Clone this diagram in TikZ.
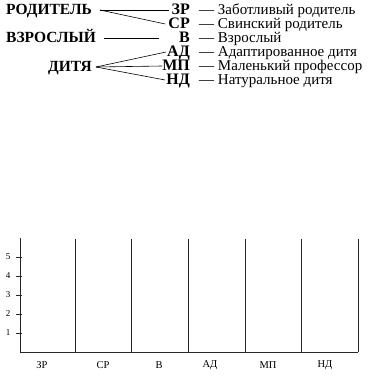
\documentclass[tikz,border=0pt]{standalone}
\usepackage{fontspec}
\setmainfont{Liberation Serif}
\begin{document}
\begin{tikzpicture}[x=1pt,y=-1pt,
  big/.style={font=\fontsize{15.5}{16}\selectfont\bfseries, inner sep=0pt, text height=10pt, text depth=1.5pt},
  abbr/.style={font=\fontsize{16}{16}\selectfont\bfseries, inner sep=0pt, anchor=east, text height=10pt, text depth=1.5pt},
  desc/.style={font=\fontsize{15}{16}\selectfont, inner sep=0pt, anchor=west, text height=10pt, text depth=1.5pt},
  lab/.style={font=\fontsize{10.5}{11}\selectfont, inner sep=0pt},
  tick/.style={font=\fontsize{9}{9}\selectfont, inner sep=0pt},
  conn/.style={line width=0.6pt},
  grid/.style={line width=0.8pt, black!85}]
\useasboundingbox (0,0) rectangle (372,380);
% left group labels
\node[big, anchor=west] (rod) at (6,10) {РОДИТЕЛЬ};
\node[big, anchor=west] (vz) at (6,38) {ВЗРОСЛЫЙ};
\node[big, anchor=east] (dit) at (92,67) {ДИТЯ};
% abbreviations
\node[abbr] (zr) at (190,10) {ЗР};
\node[abbr] (sr) at (190,24) {СР};
\node[abbr] (v) at (190,38) {В};
\node[abbr] (ad) at (190,52) {АД};
\node[abbr] (mp) at (190,66) {МП};
\node[abbr] (nd) at (190,80) {НД};
% descriptions
\node[desc] (dzr) at (199,10) {— Заботливый родитель};
\node[desc] (dsr) at (199,24) {— Свинский родитель};
\node[desc] (dv) at (199,38) {— Взрослый};
\node[desc] (dad) at (199,52) {— Адаптированное дитя};
\node[desc] (dmp) at (199,66) {— Маленький профессор};
\node[desc] (dnd) at (199,80) {— Натуральное дитя};
% connectors
\coordinate (rp) at (100,10);
\coordinate (dp) at (96,67);
\draw[conn] (rp) -- ([xshift=-2pt]zr.west);
\draw[conn] (rp) -- ([xshift=-3pt]sr.west);
\draw[conn] ([xshift=8pt]vz.east) -- ([xshift=-20pt]v.west);
\draw[conn] (dp) -- ([xshift=-1pt]ad.west);
\draw[conn] (dp) -- ([xshift=0pt]mp.west);
\draw[conn] (dp) -- ([xshift=-1pt]nd.west);
% chart
\coordinate (o) at (20,352);
\coordinate (top) at (20,238);
\draw[grid] (top) -- (o) -- (358,352);
\foreach \xx in {75,131,188,245,301,358}
  \draw[grid] (\xx,239) -- (\xx,352);
\foreach \v/\yy in {1/333,2/314,3/295,4/276,5/257}{
  \draw[grid] (16,\yy) -- (22,\yy);
  \node[tick] (t\v) at (8,\yy) {\v};
}
\node[lab] (c1) at (42,365) {ЗР};
\node[lab] (c2) at (103,365) {СР};
\node[lab] (c3) at (159,365) {В};
\node[lab] (c4) at (210,365) {АД};
\node[lab] (c5) at (268,365) {МП};
\node[lab] (c6) at (325,365) {НД};
\end{tikzpicture}
\end{document}
